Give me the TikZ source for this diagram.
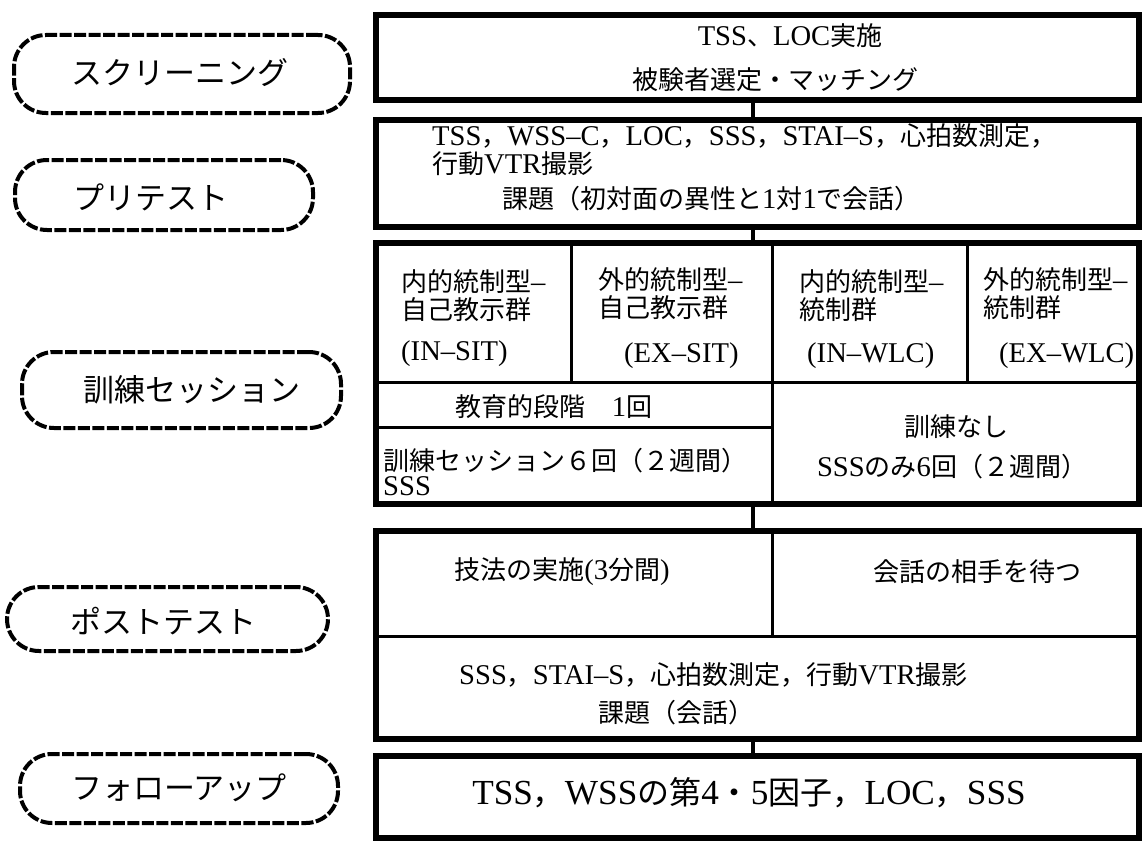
\documentclass[tikz,border=0pt]{standalone}
\usepackage{fontspec}
\setmainfont{Liberation Serif}[Scale=1.1]
\newfontfamily\jp{Noto Sans CJK JP}
\newcommand\jtxt[1]{{\jp #1}}
\newcommand\tightlines{\lineskiplimit=-50pt\relax}
\tikzset{
  box/.style={draw, line width=6pt, inner sep=0pt, minimum width=763pt},
  innerline/.style={line width=3pt},
  conn/.style={line width=4.5pt},
  pill/.style={draw, line width=4pt, dash pattern=on 12pt off 2.5pt, rounded corners=32pt, inner sep=0pt},
  plabel/.style={font=\fontsize{31}{33}\selectfont\jp, inner sep=0pt},
  txt/.style={font=\fontsize{26}{28}\selectfont, inner sep=0pt},
  twoline/.style={inner sep=0pt, align=left, font=\fontsize{26}{#1}\selectfont\tightlines},
  bigtxt/.style={font=\fontsize{32}{34}\selectfont, inner sep=0pt},
}
\begin{document}
\begin{tikzpicture}[x=1pt,y=-1pt]
\useasboundingbox (0,0) rectangle (1146,843);
\fill[white] (0,0) rectangle (1146,843);

% left stage labels
\node[pill, minimum width=336pt, minimum height=78pt] (p1) at (182,74) {};
\node[plabel] (l1) at (180,73) {スクリーニング};
\node[pill, minimum width=298pt, minimum height=70pt] (p2) at (164,195) {};
\node[plabel] (l2) at (151,197) {プリテスト};
\node[pill, minimum width=319pt, minimum height=76pt] (p3) at (181.5,390) {};
\node[plabel] (l3) at (192,390) {訓練セッション};
\node[pill, minimum width=321pt, minimum height=64pt] (p4) at (167.5,619) {};
\node[plabel] (l4) at (163,621) {ポストテスト};
\node[pill, minimum width=318pt, minimum height=69pt] (p5) at (179,788.5) {};
\node[plabel] (l5) at (179,788) {フォローアップ};

% inner dividers
\draw[innerline] (376,382) -- (1139,382);
\draw[innerline] (571,243) -- (571,382);
\draw[innerline] (772,243) -- (772,504);
\draw[innerline] (967,243) -- (967,382);
\draw[innerline] (376,427) -- (772,427);
\draw[innerline] (376,636) -- (1139,636);
\draw[innerline] (772,531) -- (772,636);

% main boxes
\node[box, minimum height=85pt] (b1) at (757.5,57.5) {};
\node[box, minimum height=107pt] (b2) at (757.5,173.5) {};
\node[box, minimum height=261pt] (b3) at (757.5,373.5) {};
\node[box, minimum height=208pt] (b4) at (757.5,635) {};
\node[box, minimum height=82pt] (b5) at (757.5,797) {};

% connectors
\draw[conn] ([xshift=-4.5pt]b1.south) -- ([xshift=-4.5pt]b2.north);
\draw[conn] ([xshift=-4.5pt]b2.south) -- ([xshift=-4.5pt]b3.north);
\draw[conn] ([xshift=-4.5pt]b3.south) -- ([xshift=-4.5pt]b4.north);
\draw[conn] ([xshift=-4.5pt]b4.south) -- ([xshift=-4.5pt]b5.north);

% box 1
\node[txt] (t11) at (790,36) {TSS\jtxt{、}LOC\jtxt{実施}};
\node[txt] (t12) at (775,80) {\jtxt{被験者選定・マッチング}};

% box 2
\node[twoline=28, anchor=west] (t21) at (432,150) {TSS\jtxt{，}WSS–C\jtxt{，}LOC\jtxt{，}SSS\jtxt{，}STAI–S\jtxt{，心拍数測定，}\\\jtxt{行動}VTR\jtxt{撮影}};
\node[txt, anchor=west] (t23) at (502,199) {\jtxt{課題（初対面の異性と}1\jtxt{対}1\jtxt{で会話）}};

% box 3 groups
\node[twoline=28, anchor=west] (c1ab) at (401,296) {\jtxt{内的統制型}–\\\jtxt{自己教示群}};
\node[txt, anchor=west] (c1c) at (401,354) {(IN–SIT)};
\node[twoline=28, anchor=west] (c2ab) at (598,294) {\jtxt{外的統制型}–\\\jtxt{自己教示群}};
\node[txt, anchor=west] (c2c) at (624,356) {(EX–SIT)};
\node[twoline=28, anchor=west] (c3ab) at (799,296) {\jtxt{内的統制型}–\\\jtxt{統制群}};
\node[txt, anchor=west] (c3c) at (807,356) {(IN–WLC)};
\node[twoline=28, anchor=west] (c4ab) at (983,294) {\jtxt{外的統制型}–\\\jtxt{統制群}};
\node[txt, anchor=west] (c4c) at (999,356) {(EX–WLC)};

\node[txt] (e1) at (554,407) {\jtxt{教育的段階　}1\jtxt{回}};
\node[twoline=25, anchor=west] (e23) at (383,472) {\jtxt{訓練セッション６回（２週間）}\\SSS};
\node[txt] (w1) at (956,427) {\jtxt{訓練なし}};
\node[txt] (w2) at (952,467) {SSS\jtxt{のみ}6\jtxt{回（２週間）}};

% box 4
\node[txt] (q1) at (562,572) {\jtxt{技法の実施}(3\jtxt{分間})};
\node[txt] (q2) at (977,572) {\jtxt{会話の相手を待つ}};
\node[txt, anchor=west] (q3) at (459,675) {SSS\jtxt{，}STAI–S\jtxt{，心拍数測定，行動}VTR\jtxt{撮影}};
\node[txt, anchor=west] (q4) at (598,713) {\jtxt{課題（会話）}};

% box 5
\node[bigtxt] (f1) at (749,793) {TSS\jtxt{，}WSS\jtxt{の第}4\jtxt{・}5\jtxt{因子，}LOC\jtxt{，}SSS};
\end{tikzpicture}
\end{document}
